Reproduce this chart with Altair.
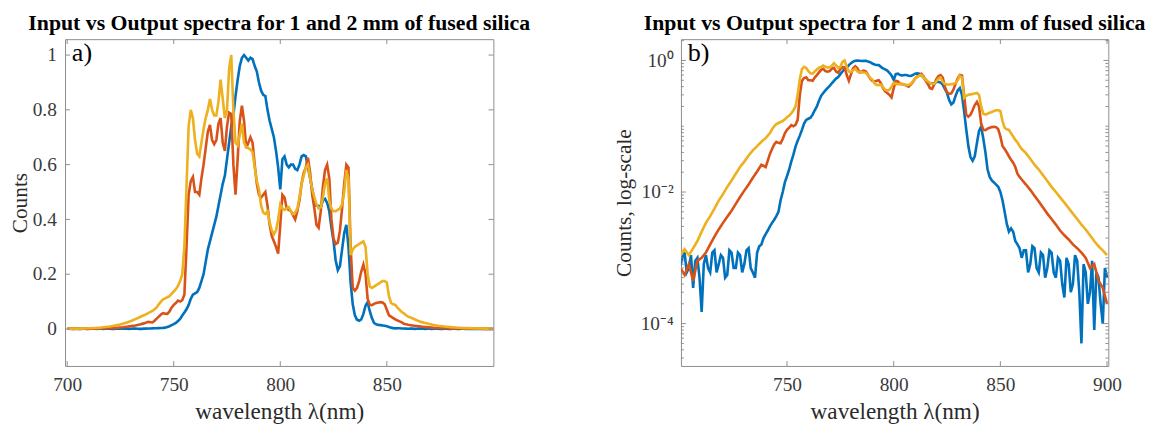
import altair as alt
import pandas as pd

# ---------------- data ----------------
# sampling grid of the two output spectra
wavelength_nm = [
    700, 702, 704, 706, 708, 710, 712, 714, 716, 718,
    720, 722, 724, 726, 728, 730, 732, 734, 736, 738,
    740, 741, 742, 743, 744, 745, 746, 747, 748, 749,
    750, 751, 752, 753, 754, 755, 756, 757, 758, 759,
    760, 761, 762, 763, 764, 765, 766, 767, 768, 769,
    770, 771, 772, 773, 774, 775, 776, 777, 778, 779,
    780, 781, 782, 783, 784, 785, 786, 787, 788, 789,
    790, 791, 792, 793, 794, 795, 796, 797, 798, 799,
    800, 801, 802, 803, 804, 805, 806, 807, 808, 809,
    810, 811, 812, 813, 814, 815, 816, 817, 818, 819,
    820, 821, 822, 823, 824, 825, 826, 827, 828, 829,
    830, 831, 832, 833, 834, 835, 836, 837, 838, 839,
    840, 841, 842, 843, 844, 845, 846, 847, 848, 849,
    850, 851, 852, 853, 854, 855, 856, 857, 858, 859,
    860,
    862, 864, 866, 868, 870, 872, 874, 876, 878, 880,
    882, 884, 886, 888, 890, 892, 894, 896, 898, 900,
]

# sampling grid of the (noisier) input spectrum
input_wavelength_nm = [
    700, 701, 702, 703, 704, 705, 706, 707, 708, 709,
    710, 711, 712, 713, 714, 715, 716, 717, 718, 719,
    720, 721, 722, 723, 724, 725, 726, 727, 728, 729,
    730, 731, 732, 733, 734, 735, 736, 737, 738, 739,
    740, 741, 742, 743, 744, 745, 746, 747, 748, 749,
    750, 751, 752, 753, 754, 755, 756, 757, 758, 759,
    760, 761, 762, 763, 764, 765, 766, 767, 768, 769,
    770, 771, 772, 773, 774, 775, 776, 777, 778, 779,
    780, 781, 782, 783, 784, 785, 786, 787, 788, 789,
    790, 791, 792, 793, 794, 795, 796, 797, 798, 799,
    800, 801, 802, 803, 804, 805, 806, 807, 808, 809,
    810, 811, 812, 813, 814, 815, 816, 817, 818, 819,
    820, 821, 822, 823, 824, 825, 826, 827, 828, 829,
    830, 831, 832, 833, 834, 835, 836, 837, 838, 839,
    840, 841, 842, 843, 844, 845, 846, 847, 848, 849,
    850, 851, 852, 853, 854, 855, 856, 857, 858, 859,
    860, 861, 862, 863, 864, 865, 866, 867, 868, 869,
    870, 871, 872, 873, 874, 875, 876, 877, 878, 879,
    880, 881, 882, 883, 884, 885, 886, 887, 888, 889,
    890, 891, 892, 893, 894, 895, 896, 897, 898, 899,
    900,
]

input_counts = [
    7.5e-4, 1.0e-3, 1.2e-3, 6e-4, 7e-4, 1.1e-3, 3.5e-4, 9e-4, 1.0e-3, 5e-4,
    1.5e-4, 8e-4, 1.1e-3, 7e-4, 6e-4, 1.2e-3, 1.3e-3, 6e-4, 8e-4, 1.1e-3,
    1.0e-3, 5e-4, 5.5e-4, 1.3e-3, 1.2e-3, 7e-4, 7e-4, 1.2e-3, 1.1e-3, 6e-4,
    8e-4, 1.3e-3, 1.4e-3, 7e-4, 6e-4, 5e-4, 1.2e-3, 1.5e-3, 1.6e-3, 2.0e-3,
    0.0023, 0.0026, 0.0030, 0.0034, 0.0038, 0.0043, 0.0050, 0.0075, 0.010, 0.014,
    0.0175, 0.022, 0.029, 0.037, 0.049, 0.060, 0.072, 0.088, 0.11, 0.125,
    0.13, 0.135, 0.15, 0.175, 0.20, 0.245, 0.29, 0.32, 0.35, 0.38,
    0.41, 0.45, 0.49, 0.53, 0.56, 0.62, 0.68, 0.74, 0.78, 0.85,
    0.91, 0.96, 0.99, 1.0, 0.99, 0.98, 0.99, 0.985, 0.96, 0.94,
    0.90, 0.87, 0.855, 0.85, 0.80, 0.76, 0.73, 0.70, 0.65, 0.59,
    0.51, 0.62, 0.63, 0.60, 0.59, 0.60, 0.60, 0.585, 0.58, 0.60,
    0.63, 0.635, 0.63, 0.59, 0.55, 0.51, 0.47, 0.45, 0.45, 0.445,
    0.47, 0.475, 0.46, 0.43, 0.37, 0.32, 0.25, 0.215, 0.23, 0.29,
    0.35, 0.38, 0.30, 0.17, 0.09, 0.05, 0.034, 0.030, 0.035, 0.055,
    0.085, 0.098, 0.065, 0.040, 0.022, 0.017, 0.015, 0.014, 0.013, 0.012,
    0.010, 0.0075, 0.0050, 0.0033, 0.0025, 0.0028, 0.0025, 0.0018, 0.0016, 0.0014,
    0.0010, 1.3e-3, 1.3e-3, 6e-4, 8e-4, 1.5e-3, 1.4e-3, 7e-4, 6e-4, 1.2e-3,
    1.1e-3, 5e-4, 7e-4, 1.3e-3, 1.2e-3, 6e-4, 5e-4, 1.0e-3, 9e-4, 4e-4,
    2.5e-4, 1.0e-3, 8e-4, 3e-4, 4e-4, 1.1e-3, 9e-4, 3e-4, 5e-5, 8e-4,
    6e-4, 2e-4, 3e-4, 9e-4, 8e-5, 6e-4, 5e-4, 2e-4, 1e-4, 7e-4,
    5e-4,
]

output_1mm_counts = [
    7e-4, 5.5e-4, 8e-4, 4.5e-4, 9e-4, 1.0e-3, 1.2e-3, 1.6e-3, 2.1e-3, 2.7e-3,
    3.4e-3, 4.2e-3, 5.2e-3, 6.6e-3, 8.4e-3, 1.05e-2, 1.3e-2, 1.65e-2, 2.05e-2, 2.6e-2,
    0.024, 0.030, 0.038, 0.045, 0.053, 0.058, 0.056, 0.055, 0.064, 0.078,
    0.088, 0.095, 0.104, 0.10, 0.105, 0.125, 0.30, 0.49, 0.54, 0.555,
    0.50, 0.50, 0.49, 0.55, 0.60, 0.66, 0.72, 0.745, 0.69, 0.675,
    0.69, 0.75, 0.77, 0.68, 0.65, 0.74, 0.79, 0.785, 0.60, 0.49,
    0.62, 0.76, 0.815, 0.76, 0.66, 0.68, 0.70, 0.68, 0.60, 0.53,
    0.49, 0.48, 0.49, 0.50, 0.45, 0.38, 0.34, 0.32, 0.30, 0.275,
    0.38, 0.49, 0.48, 0.44, 0.435, 0.43, 0.415, 0.40, 0.43, 0.47,
    0.53, 0.57, 0.59, 0.625, 0.57, 0.49, 0.44, 0.38, 0.37, 0.43,
    0.52, 0.58, 0.60, 0.55, 0.40, 0.33, 0.31, 0.315, 0.36, 0.44,
    0.53, 0.60, 0.59, 0.30, 0.15, 0.14, 0.15, 0.175, 0.21, 0.235,
    0.20, 0.11, 0.088, 0.087, 0.092, 0.095, 0.097, 0.098, 0.097, 0.09,
    0.07, 0.05, 0.045, 0.040, 0.035, 0.031, 0.028, 0.024, 0.019, 0.017,
    0.0155,
    0.013, 0.0108, 0.0088, 0.0072, 0.0058, 0.0047, 0.0039, 0.0032, 0.0026, 0.0022,
    0.0019, 0.0016, 0.0014, 0.0012, 0.0010, 0.0007, 0.0008, 0.00045, 0.00035, 0.0002,
]

output_2mm_counts = [
    1.1e-3, 1.35e-3, 1.1e-3, 1.4e-3, 1.8e-3, 2.5e-3, 3.4e-3, 4.3e-3, 5.6e-3, 7.4e-3,
    9.3e-3, 1.2e-2, 1.5e-2, 1.9e-2, 2.4e-2, 2.9e-2, 3.6e-2, 4.3e-2, 5.0e-2, 5.8e-2,
    0.066, 0.072, 0.079, 0.09, 0.10, 0.108, 0.112, 0.116, 0.12, 0.128,
    0.137, 0.145, 0.157, 0.175, 0.20, 0.30, 0.52, 0.74, 0.80, 0.77,
    0.69, 0.64, 0.63, 0.68, 0.73, 0.77, 0.80, 0.84, 0.80, 0.78,
    0.78, 0.83, 0.91, 0.84, 0.77, 0.80, 0.95, 1.0, 0.80, 0.68,
    0.67, 0.71, 0.75, 0.68, 0.665, 0.66, 0.655, 0.645, 0.59, 0.54,
    0.51, 0.45, 0.425, 0.42, 0.43, 0.39, 0.36, 0.345, 0.36, 0.40,
    0.455, 0.44, 0.435, 0.44, 0.445, 0.43, 0.42, 0.425, 0.44, 0.48,
    0.53, 0.56, 0.59, 0.60, 0.55, 0.51, 0.48, 0.455, 0.44, 0.445,
    0.48, 0.53, 0.55, 0.47, 0.44, 0.43, 0.43, 0.435, 0.44, 0.455,
    0.50, 0.58, 0.55, 0.27, 0.29, 0.30, 0.305, 0.31, 0.315, 0.32,
    0.30, 0.20, 0.155, 0.15, 0.155, 0.16, 0.165, 0.17, 0.175, 0.175,
    0.17, 0.12, 0.095, 0.09, 0.088, 0.078, 0.07, 0.062, 0.057, 0.05,
    0.045,
    0.039, 0.032, 0.026, 0.022, 0.018, 0.0147, 0.012, 0.010, 0.0083, 0.0069,
    0.0057, 0.0047, 0.0039, 0.0032, 0.0027, 0.0022, 0.0018, 0.0015, 0.0013, 0.0011,
]

series = [
    (input_wavelength_nm, input_counts, "#0072BD"),
    (wavelength_nm, output_1mm_counts, "#D95319"),
    (wavelength_nm, output_2mm_counts, "#EDB120"),
]

ticks_a_x = [700, 750, 800, 850]
ticks_a_y = [0, 0.2, 0.4, 0.6, 0.8, 1]
ticks_b_x = [750, 800, 850, 900]
ticks_b_y = [1e-4, 1e-2, 1]
minor_b_y = [3e-5, 4e-5, 5e-5, 6e-5, 7e-5, 8e-5, 9e-5,
             2e-4, 3e-4, 4e-4, 5e-4, 6e-4, 7e-4, 8e-4, 9e-4,
             1e-3, 2e-3, 3e-3, 4e-3, 5e-3, 6e-3, 7e-3, 8e-3, 9e-3,
             2e-2, 3e-2, 4e-2, 5e-2, 6e-2, 7e-2, 8e-2, 9e-2,
             1e-1, 0.2, 0.3, 0.4, 0.5, 0.6, 0.7, 0.8, 0.9, 2]

TITLE = "Input vs Output spectra for 1 and 2 mm of fused silica"
FONT = "Liberation Serif"
AXC = "#8a8a8a"
W_A, W_B, H = 443, 442, 338


def build_panel(xenc, yenc, width, xticks, yticks, yminor, label):
    layers = []
    for wl, vals, col in series:
        df = pd.DataFrame({"wl": wl, "v": vals})
        layers.append(
            alt.Chart(df).mark_line(color=col, strokeWidth=2.7, clip=True)
            .encode(x=xenc, y=yenc)
        )
    tx = pd.DataFrame({"wl": xticks})
    ty = pd.DataFrame({"v": yticks})
    layers.append(alt.Chart(tx).mark_rule(color=AXC, strokeWidth=1)
                  .encode(x=xenc, y=alt.value(H), y2=alt.value(H - 5)))
    layers.append(alt.Chart(tx).mark_rule(color=AXC, strokeWidth=1)
                  .encode(x=xenc, y=alt.value(0), y2=alt.value(5)))
    layers.append(alt.Chart(ty).mark_rule(color=AXC, strokeWidth=1)
                  .encode(y=yenc, x=alt.value(0), x2=alt.value(5)))
    layers.append(alt.Chart(ty).mark_rule(color=AXC, strokeWidth=1)
                  .encode(y=yenc, x=alt.value(width), x2=alt.value(width - 5)))
    if yminor:
        tm = pd.DataFrame({"v": yminor})
        layers.append(alt.Chart(tm).mark_rule(color=AXC, strokeWidth=1)
                      .encode(y=yenc, x=alt.value(0), x2=alt.value(3)))
        layers.append(alt.Chart(tm).mark_rule(color=AXC, strokeWidth=1)
                      .encode(y=yenc, x=alt.value(width), x2=alt.value(width - 3)))
    lab = pd.DataFrame({"lab": [label]})
    layers.append(
        alt.Chart(lab).mark_text(font=FONT, fontSize=27, align="left",
                                 baseline="top", color="black")
        .encode(text="lab:N", x=alt.value(7), y=alt.value(2))
    )
    return alt.layer(*layers).properties(
        width=width, height=H,
        title=alt.TitleParams(TITLE, font=FONT, fontSize=22.5, fontWeight="bold",
                              color="black", anchor="middle", offset=5),
    )


x_axis_common = dict(title="wavelength λ(nm)", format="d", labelPadding=9,
                     titlePadding=2, minExtent=33, maxExtent=33, titleFontSize=24)

xa = alt.X("wl:Q", scale=alt.Scale(domain=[699, 900], nice=False, zero=False),
           axis=alt.Axis(values=ticks_a_x, **x_axis_common))
ya = alt.Y("v:Q", scale=alt.Scale(domain=[-0.135, 1.058], nice=False, zero=False),
           axis=alt.Axis(values=ticks_a_y, title="Counts", format="~g",
                         labelPadding=9, titlePadding=0, minExtent=35, maxExtent=35,
                         titleFontSize=22))

xb = alt.X("wl:Q", scale=alt.Scale(domain=[700.3, 900.6], nice=False, zero=False),
           axis=alt.Axis(values=ticks_b_x, **x_axis_common))
yb = alt.Y("v:Q", scale=alt.Scale(type="log", domain=[2.27e-5, 2.106], nice=False),
           axis=alt.Axis(values=ticks_b_y, title="Counts, log-scale",
                         labelExpr="datum.value > 0.5 ? '10⁰' : (datum.value > 0.005 ? '10⁻²' : '10⁻⁴')",
                         labelPadding=8, titlePadding=0, minExtent=47, maxExtent=47,
                         titleFontSize=22))

panel_a = build_panel(xa, ya, W_A, ticks_a_x, ticks_a_y, None, "a)")
panel_b = build_panel(xb, yb, W_B, ticks_b_x, ticks_b_y, minor_b_y, "b)")

chart = (
    alt.hconcat(panel_a, panel_b, spacing=84)
    .properties(padding={"left": 0, "top": -4, "right": 0, "bottom": 0})
    .configure_view(stroke=AXC, strokeWidth=1)
    .configure_axis(
        labelFont=FONT, labelFontSize=20, labelColor="#3a3a3a",
        titleFont=FONT, titleFontWeight="normal",
        titleColor="#2a2a2a", ticks=False, tickSize=0, domain=False, grid=False,
        labelFlush=False, labelOverlap=False,
    )
)

chart.save("out.html", embed_options={"renderer": "svg", "actions": False})
